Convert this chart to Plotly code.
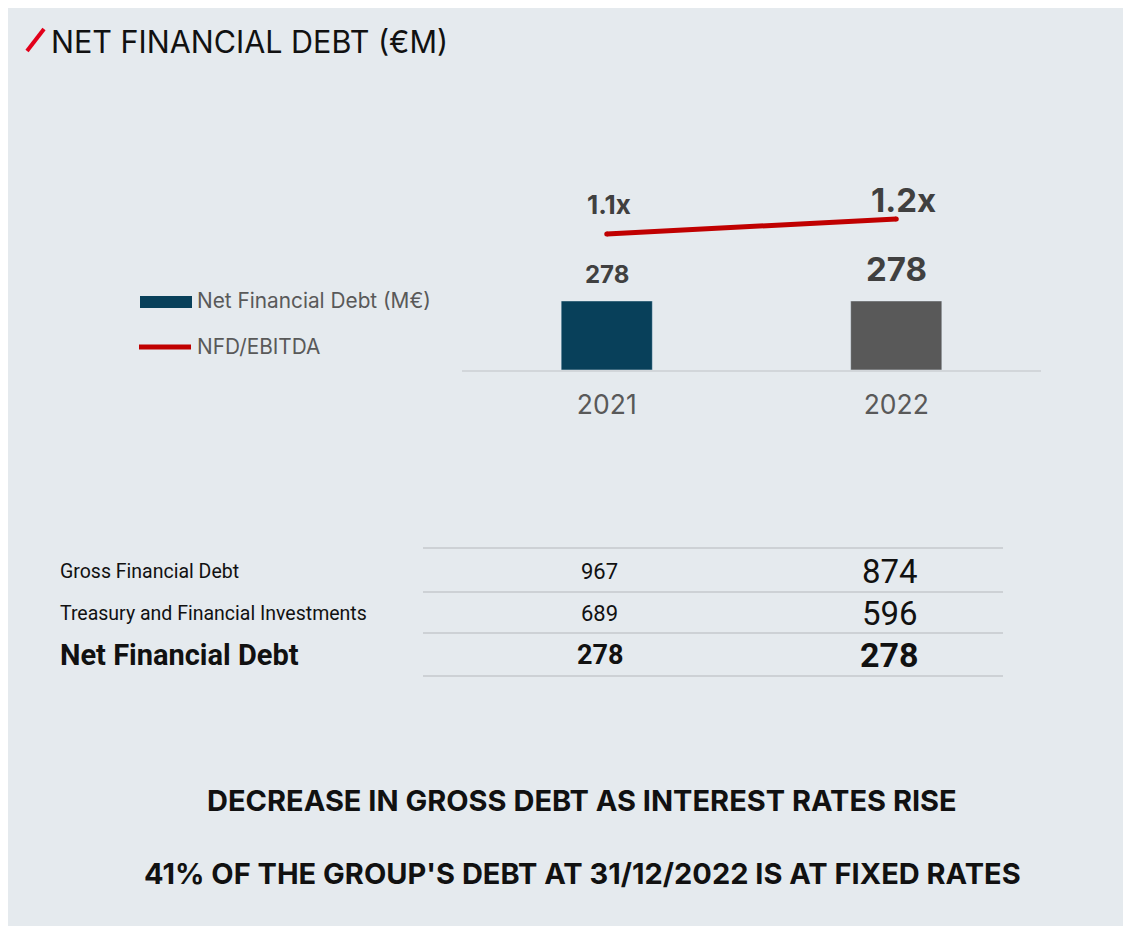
import plotly.graph_objects as go

# ---------------- data ----------------
years = ["2021", "2022"]
nfd_values = [278, 278]
nfd_ebitda = [1.1, 1.2]
ratio_labels = ["1.1x", "1.2x"]

table_rows = ["Gross Financial Debt", "Treasury and Financial Investments", "Net Financial Debt"]
table_2021 = [967, 689, 278]
table_2022 = [874, 596, 278]

title_text = "NET FINANCIAL DEBT (€M)"
legend_labels = ["Net Financial Debt (M€)", "NFD/EBITDA"]
notes = ["DECREASE IN GROSS DEBT AS INTEREST RATES RISE",
         "41% OF THE GROUP'S DEBT AT 31/12/2022 IS AT FIXED RATES"]

# ---------------- styles ----------------
OFF = 8                      # page body margin
W, H = 1131 - OFF, 929 - OFF
BG = "#e5eaee"
BAR_COLORS = ["#08405a", "#595959"]
LINE_COLOR = "#c00000"
TXT = "#404040"
FONT = "Inter"
TFONT = "Roboto"

def X(px):
    return (px - OFF) / W

def Y(py):
    return 1 - (py - OFF) / H

bar_label_sizes = [24, 33]
bar_label_shift = [26, 32]
ratio_label_sizes = [26, 33]
ratio_label_shift = [(2, 29), (7, 19)]

fig = go.Figure()

fig.add_trace(go.Bar(
    x=years, y=nfd_values, marker_color=BAR_COLORS, width=0.315,
    showlegend=False, hoverinfo="skip", yaxis="y"))

fig.add_trace(go.Scatter(
    x=years, y=nfd_ebitda, mode="lines+markers", yaxis="y2",
    line=dict(color=LINE_COLOR, width=5),
    marker=dict(color=LINE_COLOR, size=5),
    showlegend=False, hoverinfo="skip"))

ann = []
# bar value labels
for i, v in enumerate(nfd_values):
    ann.append(dict(x=i, y=v, xref="x", yref="y", text=f"<b>{v}</b>",
                    showarrow=False, yshift=bar_label_shift[i], yanchor="middle",
                    font=dict(family=FONT, size=bar_label_sizes[i], color=TXT)))
# ratio labels
for i, (v, lab) in enumerate(zip(nfd_ebitda, ratio_labels)):
    ann.append(dict(x=i, y=v, xref="x", yref="y2", text=f"<b>{lab}</b>",
                    showarrow=False, xshift=ratio_label_shift[i][0],
                    yshift=ratio_label_shift[i][1], yanchor="middle",
                    font=dict(family=FONT, size=ratio_label_sizes[i], color=TXT)))

# title
ann.append(dict(x=X(49), y=Y(41), xref="paper", yref="paper", text=title_text,
                showarrow=False, xanchor="left", yanchor="middle",
                font=dict(family=FONT, size=30.5, color="#111111")))

# legend
ann.append(dict(x=X(195), y=Y(301), xref="paper", yref="paper", text=legend_labels[0],
                showarrow=False, xanchor="left", yanchor="middle",
                font=dict(family=FONT, size=20.8, color="#595959")))
ann.append(dict(x=X(195), y=Y(347), xref="paper", yref="paper", text=legend_labels[1],
                showarrow=False, xanchor="left", yanchor="middle",
                font=dict(family=FONT, size=20.8, color="#595959")))

# table
row_y = [571, 613, 655]
for i, (lab, a, b) in enumerate(zip(table_rows, table_2021, table_2022)):
    bold = i == len(table_rows) - 1
    fmt = (lambda s: f"<b>{s}</b>") if bold else (lambda s: f"{s}")
    ann.append(dict(x=X(58), y=Y(row_y[i]), xref="paper", yref="paper", text=fmt(lab),
                    showarrow=False, xanchor="left", yanchor="middle",
                    font=dict(family=TFONT, size=29 if bold else 19.5, color="#111111")))
    ann.append(dict(x=X(599.5), y=Y(row_y[i]), xref="paper", yref="paper", text=fmt(a),
                    showarrow=False, xanchor="center", yanchor="middle",
                    font=dict(family=TFONT, size=27 if bold else 22, color="#111111")))
    ann.append(dict(x=X(889.5), y=Y(row_y[i]), xref="paper", yref="paper", text=fmt(b),
                    showarrow=False, xanchor="center", yanchor="middle",
                    font=dict(family=TFONT, size=34 if bold else 33, color="#111111")))

# notes
for t, py in zip(notes, [800, 873]):
    ann.append(dict(x=X(582), y=Y(py), xref="paper", yref="paper", text=f"<b>{t}</b>",
                    showarrow=False, xanchor="center", yanchor="middle",
                    font=dict(family=FONT, size=29, color="#111111")))

shapes = [
    # panel background
    dict(type="rect", xref="paper", yref="paper", x0=X(8), x1=X(1127), y0=Y(926), y1=Y(8),
         fillcolor=BG, line=dict(width=0), layer="below"),
    # red slash
    dict(type="line", xref="paper", yref="paper", x0=X(27), y0=Y(51), x1=X(44), y1=Y(29),
         line=dict(color="#e2001a", width=4)),
    # legend swatches
    dict(type="rect", xref="paper", yref="paper", x0=X(140), x1=X(192), y0=Y(308), y1=Y(296),
         fillcolor=BAR_COLORS[0], line=dict(width=0)),
    dict(type="line", xref="paper", yref="paper", x0=X(139), x1=X(191), y0=Y(347), y1=Y(347),
         line=dict(color=LINE_COLOR, width=5)),
]
# table rules
for py in [548, 592, 633, 676]:
    shapes.append(dict(type="line", xref="paper", yref="paper", x0=X(423), x1=X(1003),
                       y0=Y(py), y1=Y(py), line=dict(color="#c4c8cc", width=1.5)))

fig.update_layout(
    width=W, height=H, margin=dict(l=0, r=0, t=0, b=0),
    paper_bgcolor="white", plot_bgcolor="rgba(0,0,0,0)",
    showlegend=False, annotations=ann, shapes=shapes,
    xaxis=dict(domain=[X(462), X(1041)], type="category", range=[-0.5, 1.5],
               showgrid=False, zeroline=False, showline=True, linecolor="#d2d6da", linewidth=2,
               ticks="", ticklabelstandoff=10,
               tickfont=dict(family=FONT, size=26.5, color="#595959")),
    yaxis=dict(domain=[Y(370), Y(180)], range=[0, 765], visible=False, fixedrange=True),
    yaxis2=dict(domain=[Y(370), Y(180)], range=[0.193, 1.46], overlaying="y",
                visible=False, fixedrange=True),
)

fig.write_html("out.html")
